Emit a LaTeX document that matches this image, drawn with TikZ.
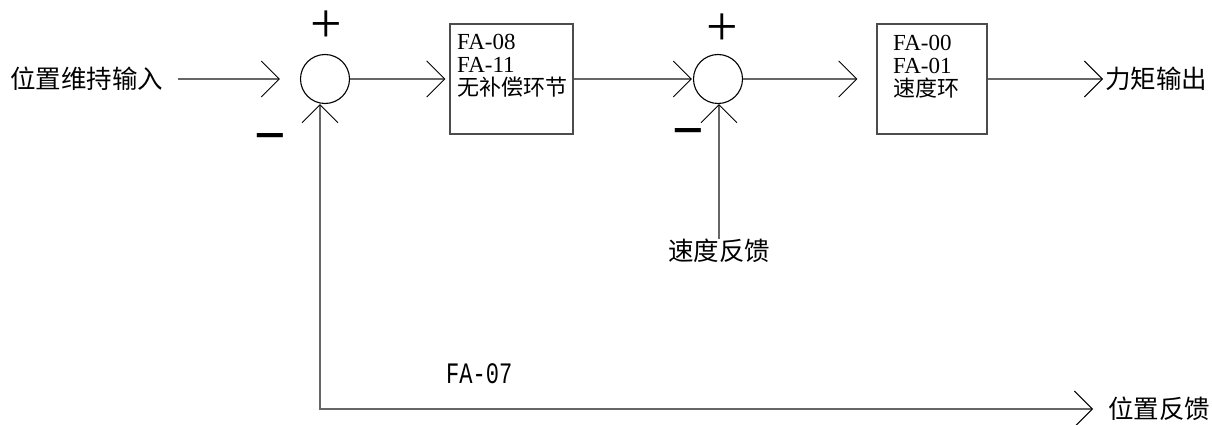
\documentclass[tikz,border=0pt]{standalone}
\usepackage{fontspec}
\setmainfont{Liberation Serif}
\newfontfamily\cjk{Noto Sans CJK SC}
\newfontfamily\monofa{Liberation Mono}
\usetikzlibrary{arrows.meta}
\begin{document}
\begin{tikzpicture}[x=1pt,y=-1pt,
  conn/.style={draw=black!60, line width=1.3pt},
  arr/.style={conn, -{Straight Barb[length=18pt,width=36pt,line width=0.9pt,color=black]}},
  barrow/.style={conn, {Straight Barb[length=18pt,width=36pt,line width=0.9pt,color=black]}-{Straight Barb[length=18pt,width=36pt,line width=0.9pt,color=black]}},
  sumc/.style={circle, draw=black, line width=1.1pt, minimum size=49pt, inner sep=0pt},
  blk/.style={draw=black!70, line width=1.4pt, minimum height=110pt, inner sep=0pt},
  lab/.style={font=\cjk\fontsize{25.5}{25.5}\selectfont, inner sep=0pt},
  btext/.style={font=\fontsize{23}{23}\selectfont, align=left, inner sep=0pt, anchor=north west},
  sign/.style={font=\fontsize{56}{56}\selectfont, inner sep=0pt, anchor=base}]
\useasboundingbox (0,0) rectangle (1212,425);

% summing junctions
\node[sumc] (c1) at (325,79) {};
\node[sumc] (c2) at (718,79) {};

% blocks
\node[blk, minimum width=123pt] (b1) at (511.5,79) {};
\node[blk, minimum width=110pt] (b2) at (932,79) {};
\node[btext] (t1) at (457,34) {FA-08\\FA-11\\{\cjk\fontsize{22}{23}\selectfont 无补偿环节}};
\node[btext] (t2) at (893,35) {FA-00\\FA-01\\{\cjk\fontsize{22}{23}\selectfont 速度环}};

% signs
\node[sign] (p1) at (326,42.5) {+};
\node[sign] (p2) at (722,46) {+};
\node[sign] (m1) at (270,164) {\scalebox{1}[1.5]{−}};
\node[sign] (m2) at (688.5,158) {\scalebox{1}[1.5]{−}};

% labels
\node[lab, anchor=west] (tin) at (10,79) {位置维持输入};
\node[lab, anchor=west] (tout) at (1105,79) {力矩输出};
\node[lab] (tsf) at (719,251) {速度反馈};
\node[lab, anchor=west] (tpf) at (1108,409) {位置反馈};
\node[font=\monofa\fontsize{22}{22}\selectfont, anchor=west, inner sep=0pt] (f07) at (446,374) {\scalebox{1}[1.35]{FA-07}};

\coordinate (fbc) at (320,409);

% connectors
\draw[arr, shorten <=15pt, shorten >=20pt] (tin) -- (c1);
\draw[arr, shorten >=4pt] (c1) -- (b1);
\draw[arr, shorten >=1pt] (b1) -- (c2);
\draw[arr, shorten >=19pt] (c2) -- (b2);
\draw[arr, shorten >=2pt] (b2) -- (tout);
\draw[arr] (tsf.north) -- (tsf.north |- c2.south);
\draw[barrow, shorten >=15pt] (fbc |- c1.south) -- (fbc) -- (tpf);
\end{tikzpicture}
\end{document}
